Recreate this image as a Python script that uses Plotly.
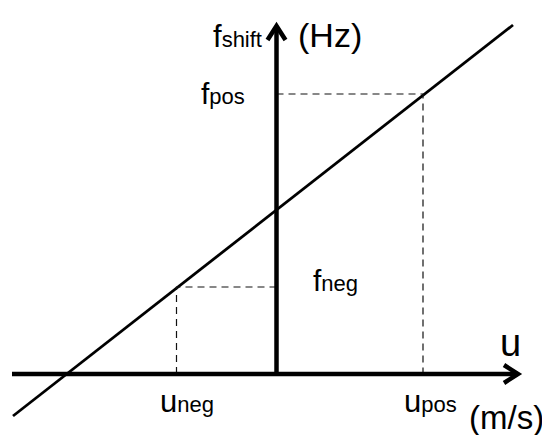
import plotly.graph_objects as go

# diagram units: origin where the two axes cross, 1 unit ~ 100 px
line_u = [-2.635, 2.365]
line_f = [-0.42, 3.49]

u_neg, u_pos = -1.0, 1.465
f_neg, f_pos = 0.87, 2.80

u_axis_end = [-2.645, 2.415]
f_axis_end = [0.0, 3.48]

FONT = "Liberation Sans, Arial, sans-serif"
BIG = 31
SUB = 22

fig = go.Figure()

# the proportional line
fig.add_trace(go.Scatter(x=line_u, y=line_f, mode="lines",
                         line=dict(color="black", width=2.8), hoverinfo="skip"))

# dashed guides from the line to the axes
dash = dict(color="#111111", width=1.2, dash="7px,5px")
for uu, ff in [(u_neg, f_neg), (u_pos, f_pos)]:
    fig.add_trace(go.Scatter(x=[0, uu, uu], y=[ff, ff, 0], mode="lines",
                             line=dash, hoverinfo="skip"))

# axes with chevron heads
ax = dict(color="black", width=4.5)
fig.add_trace(go.Scatter(x=u_axis_end, y=[0, 0], mode="lines", line=ax, hoverinfo="skip"))
fig.add_trace(go.Scatter(x=[0, 0], y=f_axis_end, mode="lines", line=ax, hoverinfo="skip"))
tip_u, tip_f = u_axis_end[1], f_axis_end[1]
fig.add_trace(go.Scatter(x=[tip_u - 0.14, tip_u, tip_u - 0.14], y=[0.09, 0, -0.09],
                         mode="lines", line=ax, hoverinfo="skip"))
fig.add_trace(go.Scatter(x=[-0.09, 0, 0.09], y=[tip_f - 0.14, tip_f, tip_f - 0.14],
                         mode="lines", line=ax, hoverinfo="skip"))


def sub(main, s, size=BIG):
    return "<span style='font-size:%dpx'>%s</span><span style='font-size:%dpx'>%s</span>" % (size, main, SUB, s)


labels = [
    (sub("f", "shift", 31), -0.13, 3.38, "right", BIG),
    ("(Hz)", 0.19, 3.39, "left", 34),
    (sub("f", "pos", 30), -0.3, f_pos + 0.01, "right", BIG),
    (sub("f", "neg", 30), 0.345, f_neg + 0.07, "left", BIG),
    ("<span style='font-size:38px'>u</span>", 2.34, 0.31, "center", BIG),
    (sub("u", "neg"), u_neg + 0.105, -0.27, "center", BIG),
    (sub("u", "pos"), u_pos + 0.075, -0.27, "center", BIG),
    ("(m/s)", 2.69, -0.43, "right", 33),
]
for txt, x, y, xa, fs in labels:
    fig.add_annotation(x=x, y=y, text=txt, showarrow=False, xanchor=xa, yanchor="middle",
                       font=dict(family=FONT, size=fs, color="black"))

# the page body adds an 8 px margin, so the figure is 8 px smaller and starts there
fig.update_layout(
    width=542, height=427, autosize=False,
    margin=dict(l=0, r=0, t=0, b=0),
    paper_bgcolor="white", plot_bgcolor="white",
    showlegend=False,
    xaxis=dict(range=[-2.685, 2.735], visible=False, fixedrange=True),
    yaxis=dict(range=[-0.61, 3.66], visible=False, fixedrange=True),
)

fig.write_html("out.html")
